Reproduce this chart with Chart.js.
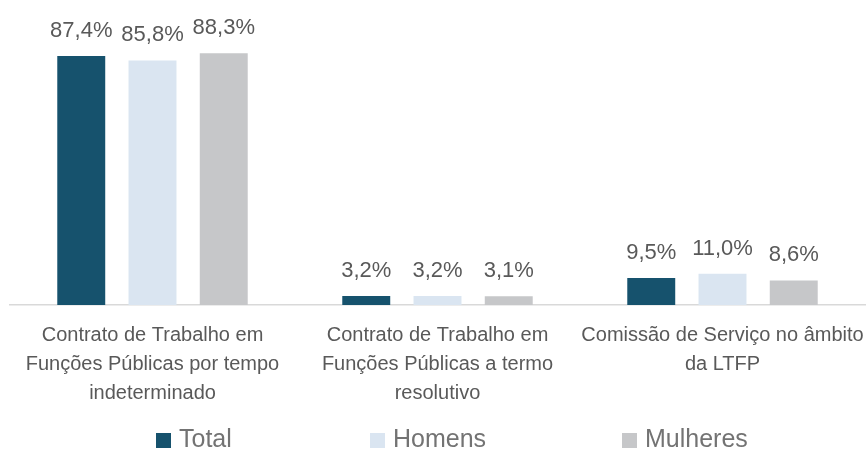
<!DOCTYPE html>
<html>
<head>
<meta charset="utf-8">
<script src="https://cdn.jsdelivr.net/npm/chart.js@4.4.1/dist/chart.umd.min.js"></script>
<style>
  html, body { margin: 0; padding: 0; background: #fff; }
  #wrap { width: 867px; height: 450px; }
</style>
</head>
<body>
<div id="wrap"><canvas id="myChart" width="867" height="450"></canvas></div>
<script>
const categories = [
  ['Contrato de Trabalho em', 'Funções Públicas por tempo', 'indeterminado'],
  ['Contrato de Trabalho em', 'Funções Públicas a termo', 'resolutivo'],
  ['Comissão de Serviço no âmbito', 'da LTFP']
];
const seriesNames = ['Total', 'Homens', 'Mulheres'];
const totalValues = [87.4, 3.2, 9.5];
const homensValues = [85.8, 3.2, 11.0];
const mulheresValues = [88.3, 3.1, 8.6];
const colors = ['#16526d', '#dae5f1', '#c6c7c9'];

const textColor = '#595959';
const legendX = [156, 370, 622];

// draws the value above each bar, with a comma as decimal mark
const valueLabels = {
  id: 'valueLabels',
  afterDatasetsDraw(chart) {
    const ctx = chart.ctx;
    ctx.save();
    ctx.fillStyle = textColor;
    ctx.font = '22px "Liberation Sans", Arial, sans-serif';
    ctx.textAlign = 'center';
    ctx.textBaseline = 'alphabetic';
    chart.data.datasets.forEach((ds, i) => {
      chart.getDatasetMeta(i).data.forEach((bar, j) => {
        const txt = ds.data[j].toFixed(1).replace('.', ',') + '%';
        ctx.fillText(txt, bar.x, bar.y - 19);
      });
    });
    ctx.restore();
  }
};

// legend spread out like the original one
const spreadLegend = {
  id: 'spreadLegend',
  afterDraw(chart) {
    const ctx = chart.ctx;
    ctx.save();
    ctx.font = '25px "Liberation Sans", sans-serif';
    ctx.textBaseline = 'alphabetic';
    ctx.textAlign = 'left';
    chart.data.datasets.forEach((ds, i) => {
      ctx.fillStyle = ds.backgroundColor;
      ctx.fillRect(legendX[i], 433, 15, 15);
      ctx.fillStyle = '#737373';
      ctx.fillText(ds.label, legendX[i] + 23, 447);
    });
    ctx.restore();
  }
};

let config = {
  type: 'bar',
  data: {
    labels: categories,
    datasets: [
      { label: seriesNames[0], data: totalValues, backgroundColor: colors[0] },
      { label: seriesNames[1], data: homensValues, backgroundColor: colors[1] },
      { label: seriesNames[2], data: mulheresValues, backgroundColor: colors[2] }
    ]
  },
  options: {
    responsive: false,
    animation: false,
    categoryPercentage: 0.75,
    barPercentage: 0.673,
    layout: { padding: { left: 10, right: 2, top: 20, bottom: 34 } },
    scales: {
      x: {
        grid: { display: false },
        border: { color: '#d9d9d9', width: 1.5 },
        ticks: {
          color: textColor,
          font: { family: '"Liberation Sans", Arial, sans-serif', size: 20, lineHeight: 1.45 },
          padding: 8,
          maxRotation: 0,
          autoSkip: false
        },
        afterFit(scale) {
          // labels may run to the canvas edge, like the original
          scale.paddingLeft = 0;
          scale.paddingRight = 0;
        }
      },
      y: {
        display: false,
        min: 0,
        max: 100
      }
    },
    plugins: {
      legend: { display: false },
      tooltip: { enabled: false }
    }
  },
  plugins: [valueLabels, spreadLegend]
};

let myChart = new Chart(document.getElementById('myChart').getContext('2d'), config);
</script>
</body>
</html>
